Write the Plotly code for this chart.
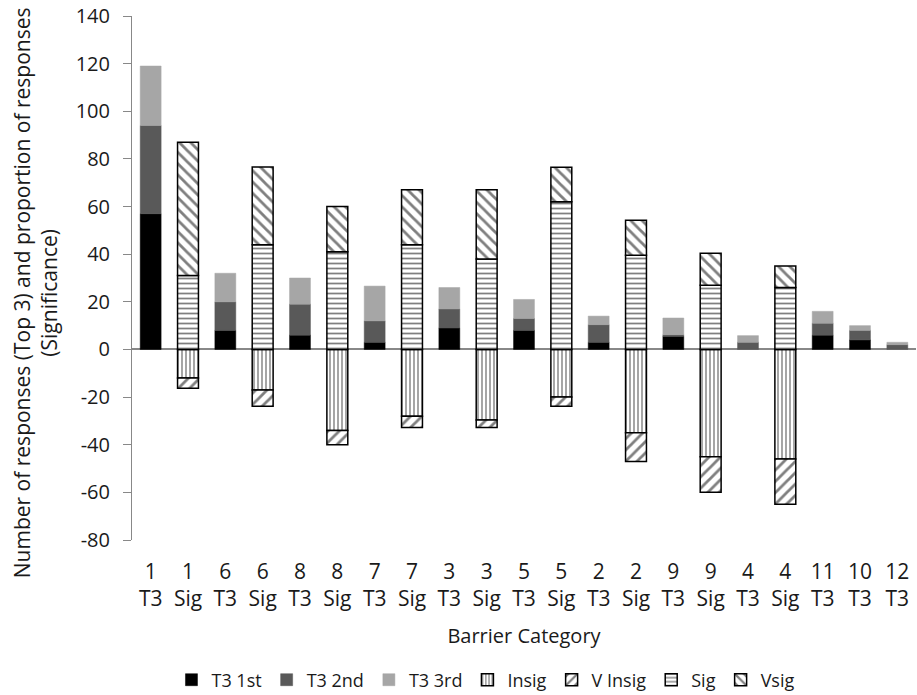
import plotly.graph_objects as go

categories = ["1<br>T3", "1<br>Sig", "6<br>T3", "6<br>Sig", "8<br>T3", "8<br>Sig",
              "7<br>T3", "7<br>Sig", "3<br>T3", "3<br>Sig", "5<br>T3", "5<br>Sig",
              "2<br>T3", "2<br>Sig", "9<br>T3", "9<br>Sig", "4<br>T3", "4<br>Sig",
              "11<br>T3", "10<br>T3", "12<br>T3"]

t3_1st = [57, 0, 8, 0, 6, 0, 3, 0, 9, 0, 8, 0, 3, 0, 5.5, 0, 0, 0, 6, 4, 0]
t3_2nd = [37, 0, 12, 0, 13, 0, 9, 0, 8, 0, 5, 0, 7.4, 0, 0.7, 0, 3, 0, 5, 4, 2]
t3_3rd = [25, 0, 12, 0, 11, 0, 14.6, 0, 9, 0, 8, 0, 3.6, 0, 7, 0, 2.8, 0, 5, 2, 1]
insig = [0, -12, 0, -17, 0, -34, 0, -28, 0, -29.6, 0, -20, 0, -35, 0, -45, 0, -46, 0, 0, 0]
v_insig = [0, -4.3, 0, -6.8, 0, -6, 0, -4.8, 0, -3.2, 0, -3.8, 0, -12, 0, -15, 0, -19, 0, 0, 0]
sig = [0, 31, 0, 44, 0, 41, 0, 44, 0, 38, 0, 62, 0, 39.5, 0, 27, 0, 26, 0, 0, 0]
vsig = [0, 56, 0, 32.6, 0, 19, 0, 23, 0, 29, 0, 14.5, 0, 14.7, 0, 13.4, 0, 9, 0, 0, 0]

y_tickvals = [-80, -60, -40, -20, 0, 20, 40, 60, 80, 100, 120, 140]
y_ticktext = ["-80", "-60", "-40", "-20", "0", "20", "40", "60", "80", "100", "120", "140"]

y_title = "Number of responses (Top 3) and proportion of responses<br>(Significance)"
x_title = "Barrier Category"

def nz(vals):
    return [v if v != 0 else None for v in vals]

fig = go.Figure()
solid = [("T3 1st", t3_1st, "#000000"), ("T3 2nd", t3_2nd, "#595959"), ("T3 3rd", t3_3rd, "#a6a6a6")]
for name, vals, col in solid:
    fig.add_trace(go.Bar(x=categories, y=nz(vals), name=name,
                         marker=dict(color=col, line=dict(color=col, width=0.5))))

patterned = [("Insig", insig, "|", 4), ("V Insig", v_insig, "/", 8),
             ("Sig", sig, "-", 5), ("Vsig", vsig, "\\", 8)]
for name, vals, shape, size in patterned:
    fig.add_trace(go.Bar(x=categories, y=nz(vals), name=name,
                         marker=dict(color="white", line=dict(color="black", width=1.5),
                                     pattern=dict(shape=shape, fgcolor="black", bgcolor="white",
                                                  size=size, solidity=0.35))))

font = "Open Sans, sans-serif"
fig.update_layout(
    barmode="relative",
    bargap=0.44,
    width=917, height=695,
    margin=dict(l=132, r=1, t=16, b=155, autoexpand=False),
    plot_bgcolor="white", paper_bgcolor="white",
    font=dict(family=font, size=20, color="#1a1a1a"),
    showlegend=True,
    legend=dict(orientation="h", x=0.4515, xanchor="center",
                yref="container", y=0.0216, yanchor="middle",
                font=dict(size=18), itemwidth=30, traceorder="normal"),
    xaxis=dict(showline=False, ticks="", tickfont=dict(size=21), automargin=False,
               ticklabelstandoff=17, tickangle=0,
               title=dict(text=x_title, font=dict(size=20), standoff=17)),
    yaxis=dict(range=[-80, 140], tickvals=y_tickvals, ticktext=y_ticktext,
               showgrid=False, showline=True, automargin=False,
               linecolor="#888", linewidth=1, ticks="outside", ticklen=8, tickcolor="#888",
               zeroline=True, zerolinecolor="#888", zerolinewidth=1.5,
               tickfont=dict(size=20), ticklabelstandoff=9),
    annotations=[dict(text=y_title, textangle=-90, xref="paper", yref="paper",
                      x=-0.1237, y=0.471, xanchor="center", yanchor="middle",
                      showarrow=False, font=dict(size=21))],
)

fig.write_html("out.html", post_script="document.body.style.margin='0';",
               config={"displayModeBar": False})
